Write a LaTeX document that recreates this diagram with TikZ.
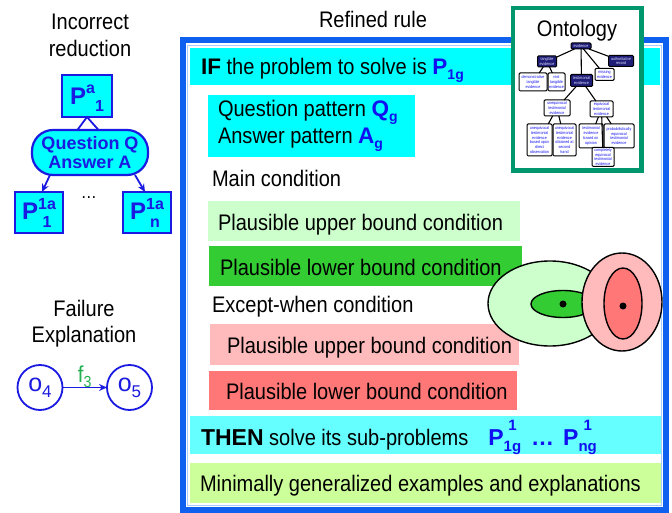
\documentclass[tikz,border=0pt]{standalone}
\usepackage{fontspec}
\setmainfont{Liberation Sans}
\newfontfamily\nrw{Liberation Sans}[FakeStretch=0.89]
\usetikzlibrary{arrows.meta}

\definecolor{frameblue}{HTML}{1060F0}
\definecolor{framelight}{HTML}{A8CCFF}
\definecolor{cyanbar}{HTML}{00FFFF}
\definecolor{cyanlight}{HTML}{66FFFF}
\definecolor{palegreen}{HTML}{CCFFCC}
\definecolor{midgreen}{HTML}{33CC33}
\definecolor{palered}{HTML}{FFBBBB}
\definecolor{midred}{HTML}{FF7777}
\definecolor{limebar}{HTML}{CCFF99}
\definecolor{symblue}{HTML}{1010F0}
\definecolor{nodeblue}{HTML}{1A1AE0}
\definecolor{ontoframe}{HTML}{00966E}
\definecolor{fgreen}{HTML}{22B050}
\definecolor{navy}{HTML}{1E1E78}

% bold symbols are set in the unstretched family
\newcommand\bsym{\rmfamily\bfseries}
% superscript stacked over subscript: #1 font, #2 sup, #3 sub, #4 raise, #5 drop
\newcommand\stk[5]{{#1\setbox0\hbox{\raisebox{#4}{#2}}\setbox2\hbox{\raisebox{-#5}{#3}}%
  \dimen0=\ifdim\wd0>\wd2 \wd0\else\wd2\fi\relax
  \rlap{\hbox to\dimen0{\hss\box0\hss}}\hbox to\dimen0{\hss\box2\hss}}}

\begin{document}
\begin{tikzpicture}[x=1pt,y=-1pt,
  every node/.style={inner sep=0pt,outer sep=0pt},
  txt/.style={anchor=base west,font=\nrw\fontsize{22.5}{24}\selectfont},
  ttl/.style={anchor=base,font=\nrw\fontsize{22.5}{24}\selectfont},
  pbox/.style={draw=nodeblue,fill=cyanbar,line width=2pt,minimum width=48pt,minimum height=41pt,
    font=\bsym\fontsize{24}{24}\selectfont,text=nodeblue},
  onto/.style={draw=black,line width=1pt,rounded corners=1.2pt,fill=white,text=symblue,
    align=center,font=\nrw\fontsize{4.1}{4.8}\selectfont},
  ontodark/.style={onto,fill=navy,text=blue!12!white},
  tree/.style={line width=1.1pt,draw=black},
  arr/.style={-{Stealth[length=8pt,width=7pt]},line width=1.8pt,draw=nodeblue},
  outline/.style={line width=1.4pt,draw=black},
  dot/.style={circle,fill=black,minimum size=7pt}
]
\useasboundingbox (0,0) rectangle (672,513);

% ---------- titles ----------
\node[ttl] (incorrect) at (90,29.5) {Incorrect};
\node[ttl] (reduction) at (90,56.5) {reduction};
\node[ttl] (refined) at (373,28) {Refined rule};
\node[ttl] (failure) at (84,316) {Failure};
\node[ttl] (explanation) at (84,342.5) {Explanation};

% ---------- incorrect reduction ----------
\node[pbox,minimum width=50pt,minimum height=42pt,text height=22pt,text depth=4pt] (pa) at (87,96)
  {P\raisebox{11pt}{\fontsize{16}{16}\selectfont a}\raisebox{-7pt}{\fontsize{16}{16}\selectfont 1}};
\node[draw=nodeblue,fill=cyanbar,line width=2.2pt,rounded corners=21pt,minimum width=116pt,minimum height=45pt,
  align=center,font=\bsym\fontsize{18}{19}\selectfont,text=nodeblue] (qa) at (90,152.5) {Question Q\\Answer A};
\coordinate (tl) at (77,130.5);
\coordinate (tr) at (99,130.5);
\draw[nodeblue,line width=1.8pt] (tl) -- (pa.south) -- (tr);
\node[pbox,text height=20pt,text depth=5pt] (p1) at (39,212.5)
  {P\stk{\fontsize{16}{16}\selectfont}{1a}{1}{10pt}{8pt}};
\node[pbox,text height=20pt,text depth=5pt] (pn) at (147,212.5)
  {P\stk{\fontsize{16}{16}\selectfont}{1a}{n}{10pt}{8pt}};
\node[font=\nrw\fontsize{18}{18}\selectfont] (dots) at (89,198) {\textellipsis};
\draw[arr] ([xshift=-40pt]qa.south) -- ([xshift=3pt]p1.north);
\draw[arr] ([xshift=45pt]qa.south) -- ([xshift=-2pt]pn.north);

% ---------- failure explanation ----------
\node[draw=nodeblue,circle,line width=1.8pt,minimum size=45pt,font=\rmfamily\fontsize{25}{25}\selectfont,text=nodeblue]
  (o4) at (40,387.5) {o\raisebox{-6pt}{\fontsize{17}{17}\selectfont 4}};
\node[draw=nodeblue,circle,line width=1.8pt,minimum size=45pt,font=\rmfamily\fontsize{25}{25}\selectfont,text=nodeblue]
  (o5) at (129.5,387.5) {o\raisebox{-6pt}{\fontsize{17}{17}\selectfont 5}};
\draw[arr,line width=1.6pt] (o4) -- node[midway,above,font=\nrw\fontsize{23}{24}\selectfont,text=fgreen] (f3)
  {f\raisebox{-5pt}{\fontsize{16}{16}\selectfont 3}} (o5);

% ---------- rule frame ----------
\draw[frameblue,line width=6pt] (183,40.5) rectangle (666,510);
\draw[framelight,line width=1pt] (187.5,45.5) rectangle (661.5,505.5);

% ---------- rule bars ----------
\fill[cyanbar] (190,48) rectangle (660,85);
\fill[cyanbar] (208,95) rectangle (415,157);
\fill[palegreen] (208,201) rectangle (520,241);
\fill[midgreen] (209,246) rectangle (522,286);
\fill[palered] (210,324) rectangle (519,365);
\fill[midred] (209,371) rectangle (517,410);
\fill[cyanlight] (190,416) rectangle (661,454);
\fill[limebar] (190,463) rectangle (661,503);

% ---------- rule texts ----------
\node[txt] (iftxt) at (201,75) {{\bsym\fontsize{22.5}{24}\selectfont IF} the problem to solve is
  \textcolor{symblue}{\bsym\fontsize{22.5}{24}\selectfont P\raisebox{-5pt}{\fontsize{14}{14}\selectfont 1g}}};
\node[txt] (qtxt) at (218,117) {Question pattern
  \textcolor{symblue}{\bsym\fontsize{22.5}{24}\selectfont Q\raisebox{-5pt}{\fontsize{14}{14}\selectfont g}}};
\node[txt] (atxt) at (218,144) {Answer pattern
  \textcolor{symblue}{\bsym\fontsize{22.5}{24}\selectfont A\raisebox{-5pt}{\fontsize{14}{14}\selectfont g}}};
\node[txt] (maintxt) at (212,187) {Main condition};
\node[txt] (mub) at (218,230) {Plausible upper bound condition};
\node[txt] (mlb) at (220,275) {Plausible lower bound condition};
\node[txt] (exctxt) at (212,312) {Except-when condition};
\node[txt] (eub) at (227,353) {Plausible upper bound condition};
\node[txt] (elb) at (226,399) {Plausible lower bound condition};
\node[txt] (thentxt) at (201,445) {{\bsym\fontsize{23}{24}\selectfont THEN} solve its sub-problems\hspace{20pt}%
  \textcolor{symblue}{\bsym\fontsize{23}{24}\selectfont
  P\stk{\fontsize{15}{15}\selectfont}{1}{1g}{15pt}{6pt}\hspace{10pt}\textellipsis\hspace{9pt}P\stk{\fontsize{15}{15}\selectfont}{1}{ng}{15pt}{6pt}}};
\node[txt] (mintxt) at (200,491) {Minimally generalized examples and explanations};

% ---------- condition regions ----------
\draw[outline,fill=palegreen] (550,303.5) ellipse [x radius=62,y radius=42.5];
\draw[outline,fill=midgreen] (563,304) ellipse [x radius=32,y radius=13.5];
\node[dot] (gdot) at (563,304) {};
\draw[outline,fill=palered] (622,302) ellipse [x radius=40,y radius=49];
\draw[outline,fill=midred] (623,303.5) ellipse [x radius=19,y radius=35.5];
\node[dot] (rdot) at (623,306) {};

% ---------- ontology ----------
\draw[ontoframe,line width=4.5pt,fill=white] (513,8) rectangle (641.5,170.5);
\node[ttl] (ontotitle) at (577,37) {Ontology};

\node[ontodark,minimum width=20pt,minimum height=6pt] (ev) at (581,46) {evidence};
\node[ontodark,minimum width=19pt,minimum height=11pt] (tang) at (547,61.5) {tangible\\evidence};
\node[ontodark,minimum width=25pt,minimum height=11pt] (auth) at (621,61) {authoritative\\record};
\node[onto,minimum width=28pt,minimum height=18pt] (demo) at (533,82) {demonstrative\\tangible\\evidence};
\node[onto,minimum width=17pt,minimum height=18pt] (real) at (556.5,82) {real\\tangible\\evidence};
\node[ontodark,minimum width=22pt,minimum height=12pt] (test) at (581.5,80.5) {testimonial\\evidence};
\node[onto,minimum width=19pt,minimum height=12pt] (miss) at (604.5,74.5) {missing\\evidence};
\node[onto,minimum width=26pt,minimum height=16pt] (uneq) at (557,108) {unequivocal\\testimonial\\evidence};
\node[onto,minimum width=23pt,minimum height=16pt] (eq) at (601.5,109) {equivocal\\testimonial\\evidence};
\node[onto,minimum width=25pt,minimum height=32pt] (ud) at (539.5,140)
  {unequivocal\\testimonial\\evidence\\based upon\\direct\\observation};
\node[onto,minimum width=23pt,minimum height=32pt] (us) at (564.5,140)
  {unequivocal\\testimonial\\evidence\\obtained at\\second\\hand};
\node[onto,minimum width=24pt,minimum height=24pt] (op) at (591,136) {testimonial\\evidence\\based on\\opinion};
\node[onto,minimum width=30pt,minimum height=24pt] (prob) at (619,136)
  {probabilistically\\equivocal\\testimonial\\evidence};
\node[onto,minimum width=22pt,minimum height=19pt] (comp) at (603,157) {completely\\equivocal\\testimonial\\evidence};

\draw[tree] (ev) -- (tang);
\draw[tree] (ev) -- (test);
\draw[tree] (ev) -- (miss);
\draw[tree] (ev) -- (auth);
\draw[tree] (tang) -- (demo);
\draw[tree] (tang) -- (real);
\draw[tree] (test) -- (uneq);
\draw[tree] (test) -- (eq);
\draw[tree] (uneq) -- (ud);
\draw[tree] (uneq) -- (us);
\draw[tree] (eq) -- (op);
\draw[tree] (eq) -- (prob);
\draw[tree] (eq) -- (comp);
\end{tikzpicture}
\end{document}
